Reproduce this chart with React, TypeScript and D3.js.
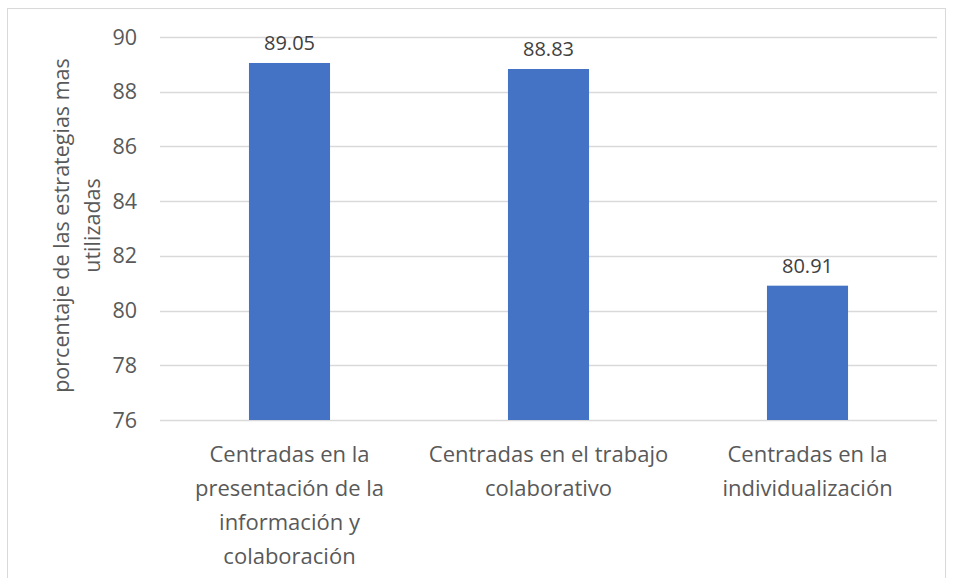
import React, { useEffect, useRef } from "react";
import * as d3 from "d3";

// chart data
const categories = [
  ["Centradas en la", "presentación de la", "información y", "colaboración"],
  ["Centradas en el trabajo", "colaborativo"],
  ["Centradas en la", "individualización"],
];
const values = [89.05, 88.83, 80.91];
const yTicks = [76, 78, 80, 82, 84, 86, 88, 90];
const yTitle = ["porcentaje de las estrategias mas", "utilizadas"];

const App = () => {
  const ref = useRef<SVGSVGElement>(null);

  useEffect(() => {
    const svg = d3.select(ref.current);
    svg.selectAll("*").remove();

    const width = 954;
    const height = 578;
    const margin = { top: 37, right: 17, bottom: 158, left: 160 };
    const font = "'Open Sans', 'Noto Sans', sans-serif";
    const textColor = "#595959";

    // outer frame
    svg
      .append("rect")
      .attr("x", 7.5)
      .attr("y", 8.5)
      .attr("width", 938)
      .attr("height", 600)
      .attr("fill", "white")
      .attr("stroke", "#d9d9d9")
      .attr("stroke-width", 1);

    const x = d3
      .scaleBand()
      .domain(categories.map((d, i) => String(i)))
      .range([margin.left, width - margin.right])
      .paddingInner(0.687)
      .paddingOuter(0.3435);

    const y = d3
      .scaleLinear()
      .domain([76, 90])
      .range([height - margin.bottom, margin.top]);

    const g = svg.append("g");

    // gridlines
    g.selectAll(".grid")
      .data(yTicks)
      .enter()
      .append("line")
      .attr("x1", margin.left)
      .attr("x2", width - margin.right)
      .attr("y1", (d) => Math.round(y(d)) + 0.5)
      .attr("y2", (d) => Math.round(y(d)) + 0.5)
      .attr("stroke", "#d9d9d9")
      .attr("stroke-width", 1.5);

    // tick labels
    g.selectAll(".ytick")
      .data(yTicks)
      .enter()
      .append("text")
      .attr("x", 137)
      .attr("y", (d) => y(d))
      .attr("dy", "0.35em")
      .attr("text-anchor", "end")
      .attr("font-family", font)
      .attr("font-size", 21.5)
      .attr("fill", textColor)
      .text((d) => d);

    // bars
    g.selectAll(".bar")
      .data(values)
      .enter()
      .append("rect")
      .attr("x", (d, i) => x(String(i))!)
      .attr("width", x.bandwidth())
      .attr("y", (d) => y(d))
      .attr("height", (d) => y(76) - y(d))
      .attr("fill", "#4472c4");

    // value labels
    g.selectAll(".val")
      .data(values)
      .enter()
      .append("text")
      .attr("x", (d, i) => x(String(i))! + x.bandwidth() / 2)
      .attr("y", (d) => y(d) - 13)
      .attr("text-anchor", "middle")
      .attr("font-family", font)
      .attr("font-size", 20)
      .attr("fill", "#404040")
      .text((d) => d.toFixed(2));

    // category labels
    categories.forEach((lines, i) => {
      const t = g
        .append("text")
        .attr("x", x(String(i))! + x.bandwidth() / 2)
        .attr("y", y(76) + 42)
        .attr("text-anchor", "middle")
        .attr("font-family", font)
        .attr("font-size", 22)
        .attr("fill", textColor);
      lines.forEach((line, k) => {
        t.append("tspan")
          .attr("x", x(String(i))! + x.bandwidth() / 2)
          .attr("dy", k === 0 ? 0 : 34)
          .text(line);
      });
    });

    // y axis title
    const cy = (y(76) + y(90)) / 2 - 3;
    const title = g
      .append("text")
      .attr("transform", `translate(69,${cy}) rotate(-90)`)
      .attr("text-anchor", "middle")
      .attr("font-family", font)
      .attr("font-size", 21.5)
      .attr("fill", textColor);
    yTitle.forEach((line, k) => {
      title
        .append("tspan")
        .attr("x", 0)
        .attr("dy", k === 0 ? 0 : 31)
        .text(line);
    });
  }, []);

  return (
    <svg
      ref={ref}
      width={954}
      height={578}
      style={{ position: "absolute", left: 0, top: 0, background: "white" }}
    />
  );
};

export default App;
